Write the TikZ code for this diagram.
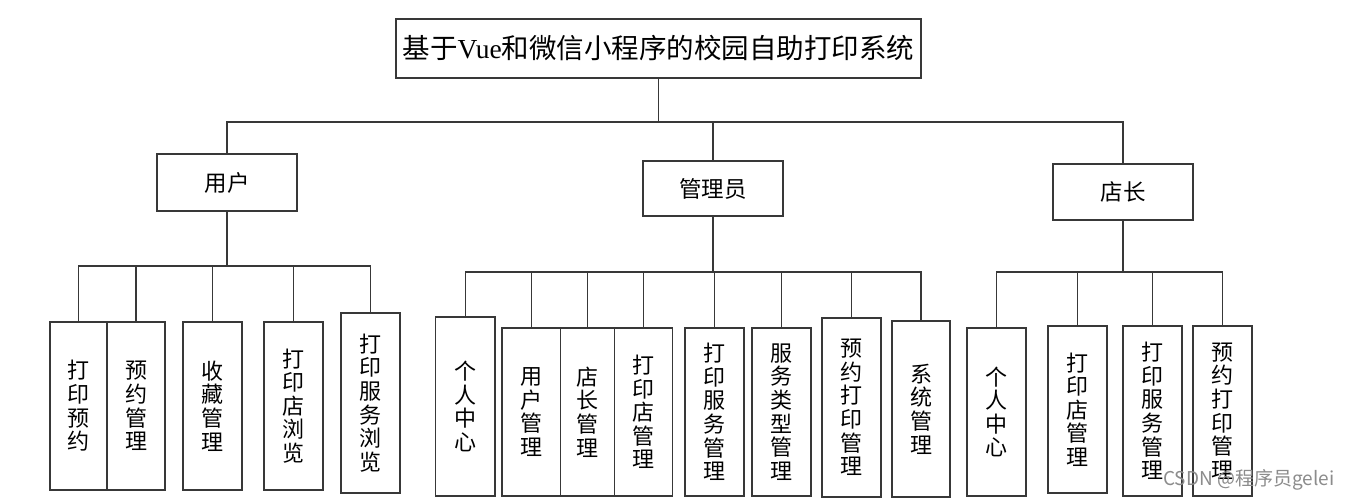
\documentclass[tikz,border=0pt]{standalone}
\usepackage{fontspec}
\setmainfont{Noto Sans CJK SC}
\newfontfamily\lat{Liberation Serif}
\newfontfamily\wm{Noto Sans CJK SC}
\tikzset{
  box/.style={draw=black!78, line width=1.3pt, fill=white, inner sep=0pt},
  midbox/.style={box, minimum width=140pt, font=\fontsize{22.5}{26}\selectfont},
  leafbox/.style={box, align=center, font=\fontsize{22}{23.6}\selectfont},
  link/.style={draw=black!78, line width=1.3pt},
}
\newcommand\lf[6]{\node[leafbox, minimum width={#3pt-#2pt}, minimum height={#5pt-#4pt}] (#1) at ({(#2+#3)/2},{(#4+#5)/2}) {#6};}
\begin{document}
\begin{tikzpicture}[x=1pt,y=-1pt]
\useasboundingbox[fill=white] (0,0) rectangle (1352,498);
% title
\node[box, minimum width=525pt, minimum height=59pt, font=\fontsize{27.5}{32}\selectfont] (t) at (658.5,48.5) {基于{\lat Vue}和微信小程序的校园自助打印系统};
% mid
\node[midbox, minimum height=57pt] (u) at (227,182.5) {用户};
\node[midbox, minimum height=55pt] (g) at (713,188.5) {管理员};
\node[midbox, minimum height=56pt] (d) at (1123,192) {店长};
% bus coordinates
\coordinate (bus0) at (0,122);
\coordinate (busu) at (0,266);
\coordinate (busg) at (0,272);
\coordinate (busd) at (0,272);
% leaves user
\lf{a1}{50}{107}{322}{490}{打\\印\\预\\约}
\lf{a2}{107}{165}{322}{490}{预\\约\\管\\理}
\lf{a3}{183}{242}{322}{490}{收\\藏\\管\\理}
\lf{a4}{264}{323}{322}{490}{打\\印\\店\\浏\\览}
\lf{a5}{341}{400}{313}{493}{打\\印\\服\\务\\浏\\览}
% leaves admin
\lf{b1}{435.5}{495}{317}{496}{个\\人\\中\\心}
\lf{b2}{502}{560.5}{328}{496}{用\\户\\管\\理}
\lf{b3}{560.5}{614.5}{328}{496}{店\\长\\管\\理}
\lf{b4}{614.5}{672.5}{328}{496}{打\\印\\店\\管\\理}
\lf{b5}{685}{744}{328}{496}{打\\印\\服\\务\\管\\理}
\lf{b6}{752}{811}{328}{496}{服\\务\\类\\型\\管\\理}
\lf{b7}{822}{881}{318}{497}{预\\约\\打\\印\\管\\理}
\lf{b8}{892}{950}{321}{497}{系\\统\\管\\理}
% leaves shop
\lf{c1}{967}{1026}{328}{496}{个\\人\\中\\心}
\lf{c2}{1048}{1107}{326}{493}{打\\印\\店\\管\\理}
\lf{c3}{1123}{1182}{326}{496}{打\\印\\服\\务\\管\\理}
\lf{c4}{1193}{1252}{326}{496}{预\\约\\打\\印\\管\\理}
% connectors
\foreach \m in {u,g,d} \draw[link] (t.south) -- (t.south |- bus0) -| (\m.north);
\foreach \c in {a1,a2,a3,a4,a5} \draw[link] (u.south) -- (u.south |- busu) -| (\c.north);
\foreach \c in {b1,b2,b3,b4,b5,b6,b7,b8} \draw[link] (g.south) -- (g.south |- busg) -| (\c.north);
\foreach \c in {c1,c2,c3,c4} \draw[link] (d.south) -- (d.south |- busd) -| (\c.north);
% watermark
\node[anchor=base west, inner sep=0pt, text=black!45, font=\wm\fontsize{19}{21}\selectfont] (w) at (1163,485) {CSDN @程序员gelei};
\end{tikzpicture}
\end{document}
